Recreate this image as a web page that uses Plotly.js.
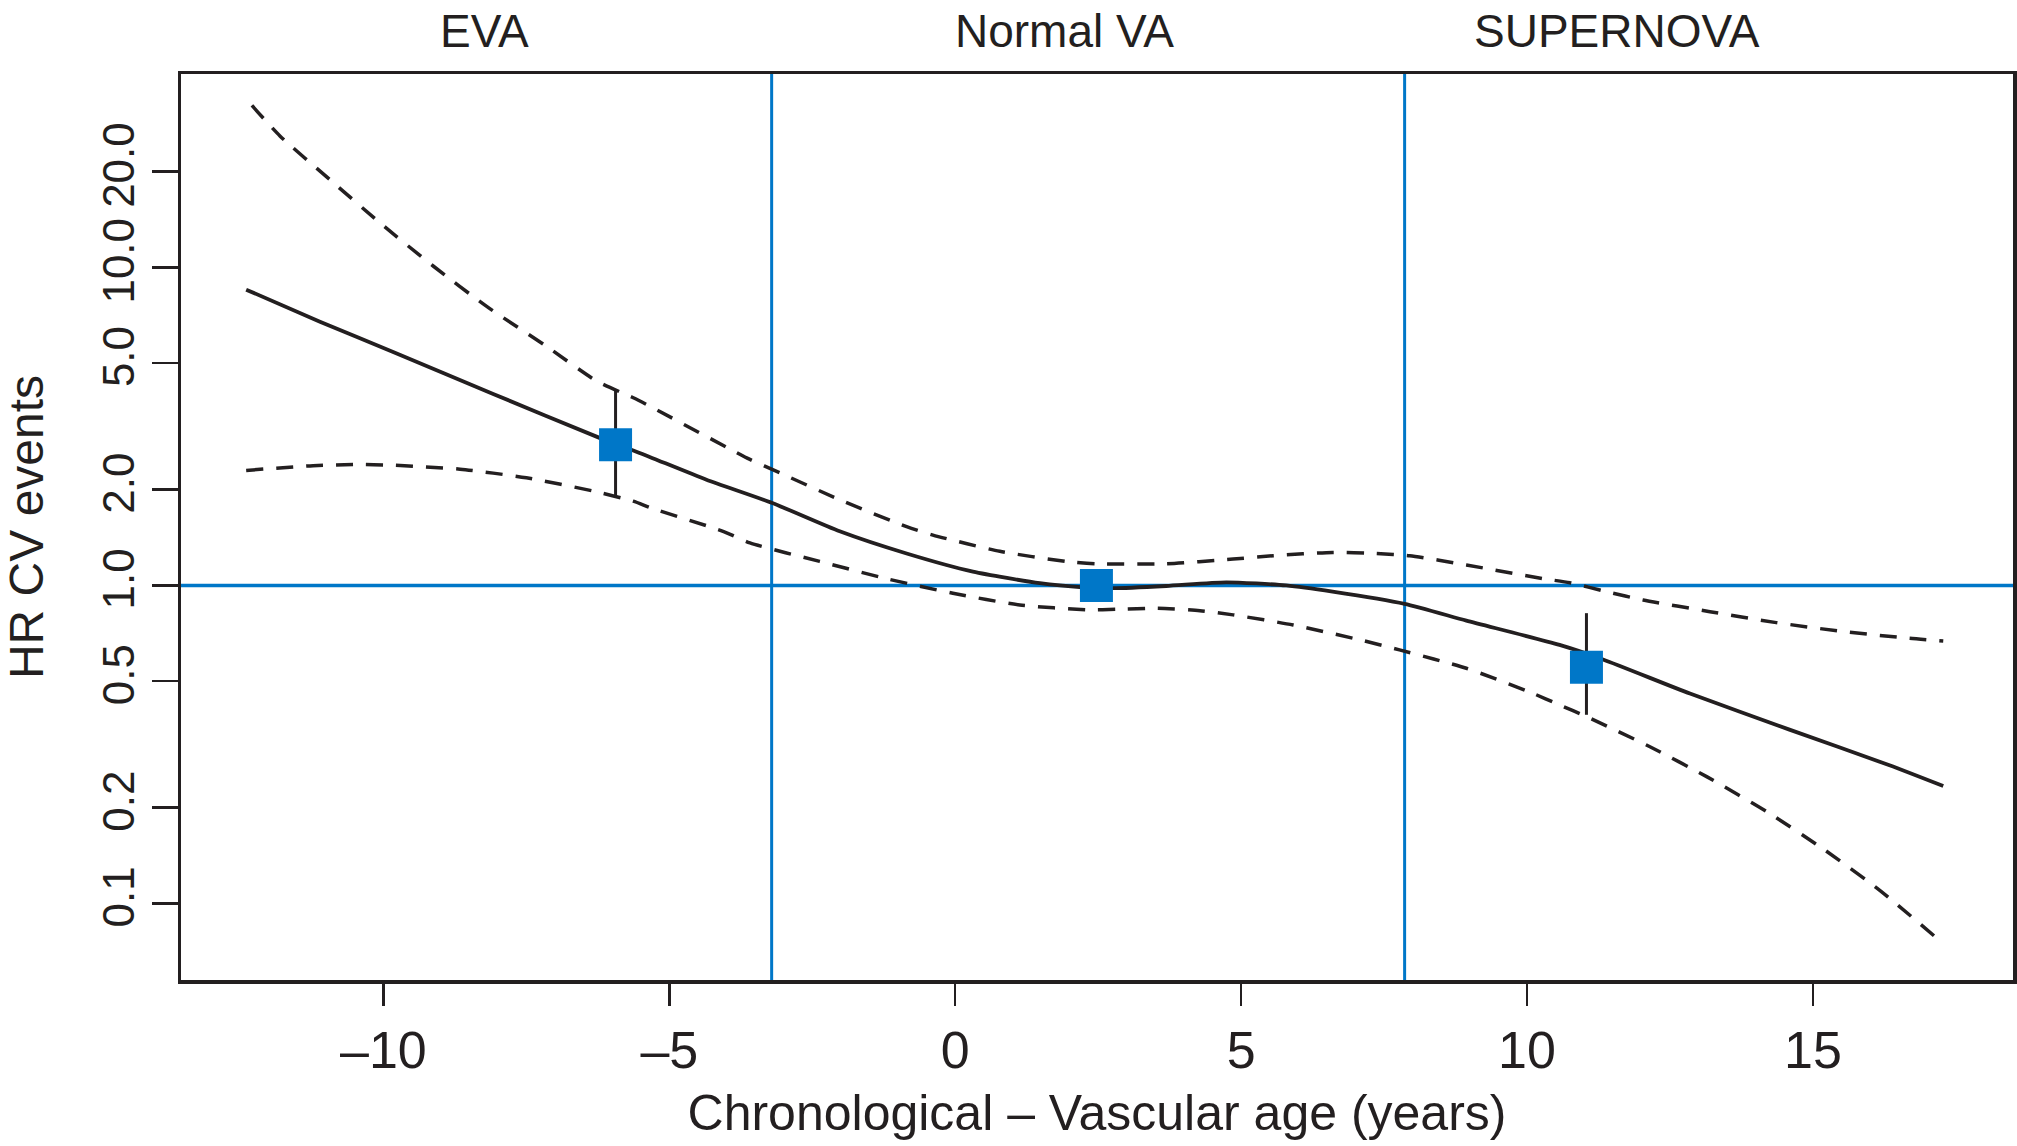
<!DOCTYPE html>
<html>
<head>
<meta charset="utf-8">
<script src="https://cdn.plot.ly/plotly-3.0.1.min.js"></script>
<style>html,body{margin:0;padding:0;background:#fff;}#chart{width:2017px;height:1146px;}</style>
</head>
<body>
<div id="chart"></div>
<script>
// Fitted hazard ratio curve (solid)
var fitX = [-12.40, -11.11, -9.83, -8.08, -6.22, -5.52, -4.35, -3.21, -2.02, -0.85, 0.31, 1.48, 2.23, 2.76, 3.69, 4.74, 5.79, 6.60, 7.86, 8.94, 10.57, 11.33, 12.85, 14.59, 16.34, 17.28];
var fitY = [8.51, 6.75, 5.42, 4.00, 2.91, 2.61, 2.15, 1.82, 1.48, 1.26, 1.105, 1.016, 0.987, 0.980, 0.996, 1.023, 1.00, 0.956, 0.875, 0.775, 0.650, 0.585, 0.457, 0.352, 0.272, 0.234];
// Upper confidence band (dashed)
var upperX = [-12.30, -11.81, -10.94, -10.06, -9.13, -8.20, -7.15, -6.27, -5.63, -5.34, -3.59, -3.07, -2.02, -0.85, -0.39, 0.78, 1.94, 2.47, 3.69, 4.86, 5.56, 6.60, 7.36, 7.95, 8.94, 10.28, 10.75, 11.39, 12.03, 13.20, 14.36, 15.53, 16.69, 17.28];
var upperY = [32.3, 25.9, 18.9, 13.8, 10.1, 7.55, 5.65, 4.39, 3.89, 3.66, 2.49, 2.26, 1.86, 1.53, 1.44, 1.28, 1.19, 1.17, 1.17, 1.21, 1.24, 1.27, 1.26, 1.24, 1.16, 1.05, 1.02, 0.956, 0.900, 0.827, 0.764, 0.716, 0.682, 0.669];
// Lower confidence band (dashed)
var lowerX = [-12.40, -11.23, -10.47, -9.89, -8.66, -7.50, -6.33, -5.63, -5.31, -4.06, -3.59, -2.37, -1.20, -0.04, 1.13, 2.35, 2.82, 3.52, 4.28, 4.86, 5.91, 7.07, 7.77, 8.94, 10.10, 10.57, 11.04, 12.15, 13.15, 14.20, 15.19, 16.17, 17.16];
var lowerY = [2.30, 2.38, 2.40, 2.39, 2.32, 2.18, 1.98, 1.84, 1.75, 1.48, 1.36, 1.19, 1.05, 0.945, 0.868, 0.838, 0.841, 0.848, 0.833, 0.808, 0.751, 0.675, 0.627, 0.549, 0.458, 0.421, 0.387, 0.311, 0.250, 0.194, 0.148, 0.110, 0.078];
// Group estimates
var groupNames = ["EVA", "Normal VA", "SUPERNOVA"];
var groupX = [-5.94, 2.47, 11.04];
var groupHR = [2.77, 1.00, 0.553];
var groupHi = [4.11, 1.00, 0.818];
var groupLo = [1.90, 1.00, 0.392];
var groupLabelX = [-8.24, 1.91, 11.58];
// Group cut-offs and reference line
var cutoffs = [-3.21, 7.86];
var refHR = 1.0;
// Axes
var xTicks = [-10, -5, 0, 5, 10, 15];
var yTickVals = [0.1, 0.2, 0.5, 1, 2, 5, 10, 20];
var yTickText = ["0.1", "0.2", "0.5", "1.0", "2.0", "5.0", "10.0", "20.0"];

var BLUE = "#0077c8";
var INK = "#231f20";
var FONT = "Liberation Sans, Arial, sans-serif";

var errPlus = groupHi.map(function (v, i) { return v - groupHR[i]; });
var errMinus = groupLo.map(function (v, i) { return groupHR[i] - v; });

var traces = [
  {x: upperX, y: upperY, mode: "lines", line: {color: INK, width: 3.5, dash: "17px,13px", shape: "spline", smoothing: 0.6}, hoverinfo: "skip"},
  {x: lowerX, y: lowerY, mode: "lines", line: {color: INK, width: 3.5, dash: "17px,13px", shape: "spline", smoothing: 0.6}, hoverinfo: "skip"},
  {x: fitX, y: fitY, mode: "lines", line: {color: INK, width: 3.8, shape: "spline", smoothing: 0.6}},
  {x: groupX, y: groupHR, mode: "markers", text: groupNames,
   marker: {symbol: "square", size: 33, color: BLUE},
   error_y: {type: "data", symmetric: false, array: errPlus, arrayminus: errMinus, color: INK, thickness: 3, width: 0}}
];

var shapes = cutoffs.map(function (c) {
  return {type: "line", xref: "x", yref: "paper", x0: c, x1: c, y0: 0, y1: 1, line: {color: BLUE, width: 3}, layer: "below"};
});
shapes.push({type: "line", xref: "paper", yref: "y", x0: 0, x1: 1, y0: refHR, y1: refHR, line: {color: BLUE, width: 3.5}, layer: "below"});

var annotations = groupNames.map(function (n, i) {
  return {text: n, x: groupLabelX[i], xref: "x", y: 1.048, yref: "paper", xanchor: "center", yanchor: "middle",
          showarrow: false, font: {family: FONT, size: 46, color: INK}};
});

var layout = {
  width: 2017, height: 1146,
  margin: {l: 181, r: 4, t: 74, b: 166},
  paper_bgcolor: "#fff", plot_bgcolor: "#fff",
  showlegend: false,
  font: {family: FONT, color: INK},
  xaxis: {
    range: [-13.54, 18.50], tickvals: xTicks, ticktext: xTicks.map(function (v) { return v < 0 ? "\u2013" + Math.abs(v) : String(v); }),
    showgrid: false, zeroline: false, showline: true, mirror: true, linecolor: INK, linewidth: 3.5,
    ticks: "outside", ticklen: 22, tickwidth: 2.5, tickcolor: INK,
    tickfont: {family: FONT, size: 52, color: INK},
    title: {text: "Chronological \u2013 Vascular age (years)", font: {family: FONT, size: 50, color: INK}, standoff: 18}
  },
  yaxis: {
    type: "log", range: [-1.2406, 1.608], tickvals: yTickVals, ticktext: yTickText, tickangle: -90,
    showgrid: false, zeroline: false, showline: true, mirror: true, linecolor: INK, linewidth: 3.5,
    ticks: "outside", ticklen: 26, tickwidth: 2.5, tickcolor: INK,
    tickfont: {family: FONT, size: 44, color: INK},
    title: {text: "HR CV events", font: {family: FONT, size: 48, color: INK}, standoff: 40}
  },
  shapes: shapes,
  annotations: annotations
};

Plotly.newPlot("chart", traces, layout, {displayModeBar: false, staticPlot: true});
</script>
</body>
</html>
